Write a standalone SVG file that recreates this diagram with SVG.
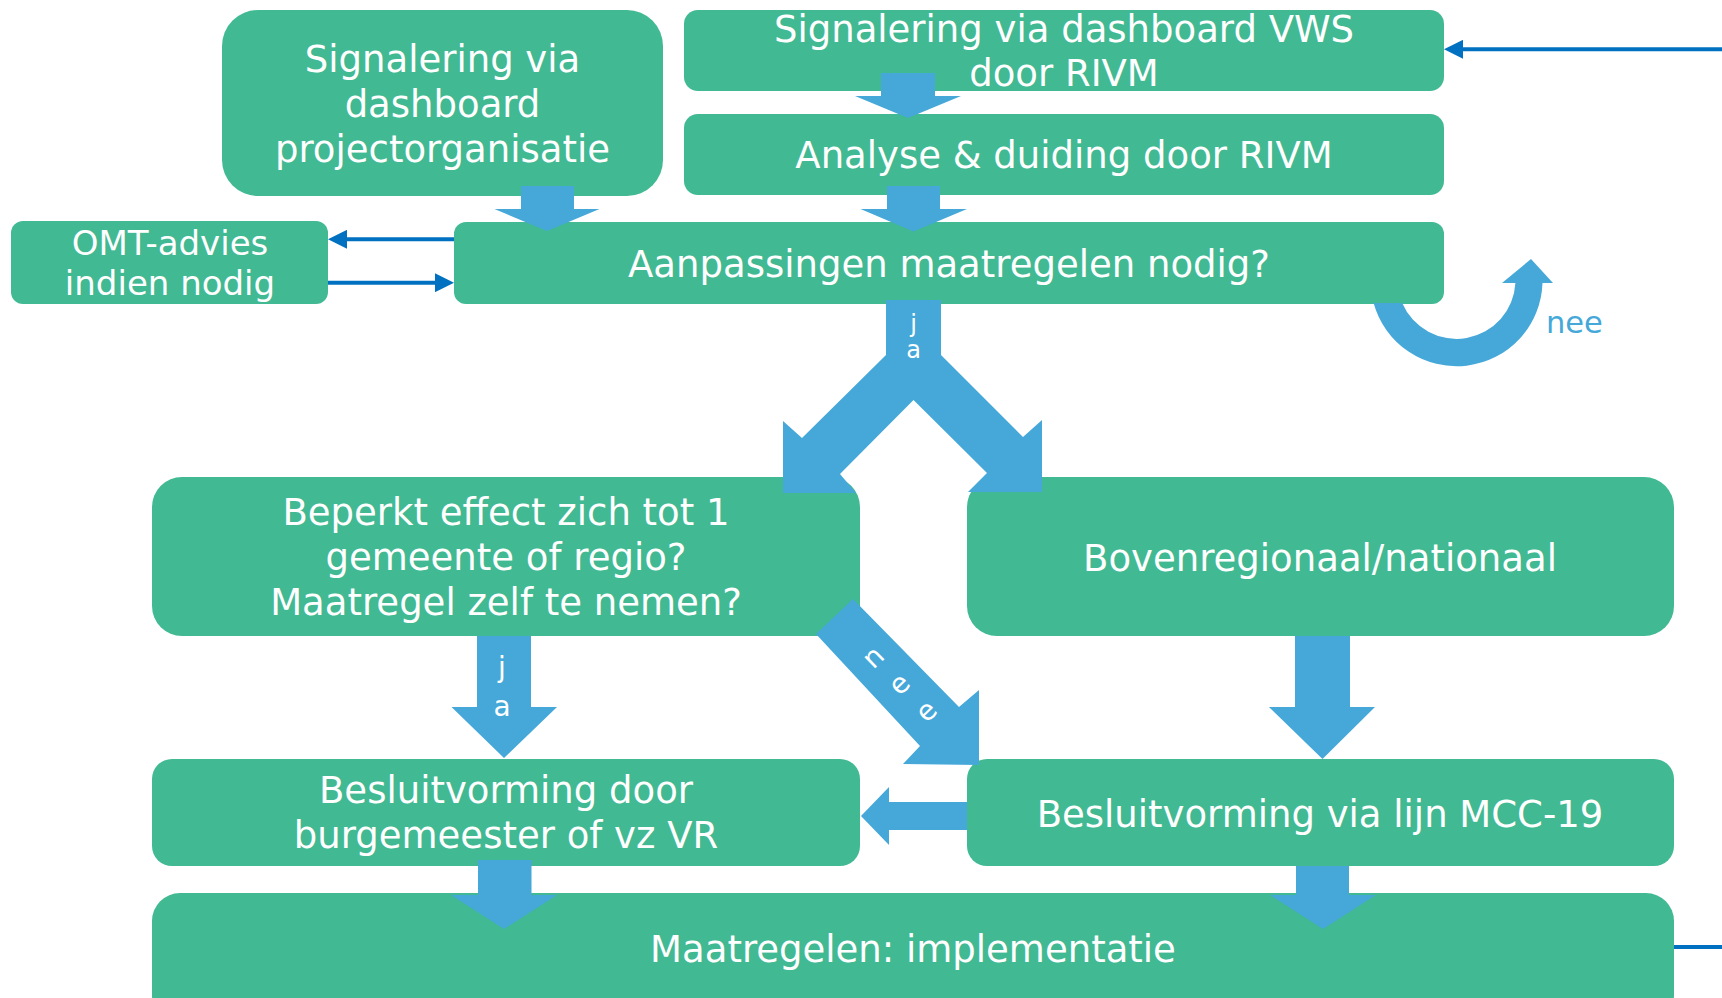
<svg xmlns="http://www.w3.org/2000/svg" width="1722" height="998" viewBox="0 0 1722 998">
  <defs>
    <style>
      .box { fill: #41B993; }
      .t { font-family: "DejaVu Sans", Verdana, sans-serif; font-size: 37px; fill: #FFFFFF; text-anchor: middle; }
      .ts { font-family: "DejaVu Sans", Verdana, sans-serif; fill: #FFFFFF; text-anchor: middle; }
      .arr { fill: #45A8D9; }
      .ln { stroke: #0070C0; stroke-width: 4; fill: none; marker-end: url(#head); }
    </style>
    <marker id="head" viewBox="0 0 19 19" refX="10" refY="9.5" markerUnits="userSpaceOnUse" markerWidth="19" markerHeight="19" orient="auto">
      <path d="M0,0 L19,9.5 L0,19 Z" fill="#0070C0"/>
    </marker>
  </defs>

  <g id="node-signalering-project">
    <rect class="box" x="222" y="10" width="441" height="186" rx="36"/>
    <text class="t" x="442.5" y="72">Signalering via</text>
    <text class="t" x="442.5" y="117">dashboard</text>
    <text class="t" x="442.5" y="162">projectorganisatie</text>
  </g>
  <g id="node-signalering-vws">
    <rect class="box" x="684" y="10" width="760" height="81" rx="14"/>
    <text class="t" x="1064" y="42">Signalering via dashboard VWS</text>
    <text class="t" x="1064" y="86">door RIVM</text>
  </g>
  <g id="node-analyse">
    <rect class="box" x="684" y="114" width="760" height="81" rx="14"/>
    <text class="t" x="1064" y="168">Analyse &amp; duiding door RIVM</text>
  </g>
  <g id="node-omt">
    <rect class="box" x="11" y="221" width="317" height="83" rx="12"/>
    <text class="ts" x="170" y="255" font-size="34">OMT-advies</text>
    <text class="ts" x="170" y="295" font-size="34">indien nodig</text>
  </g>
  <g id="node-aanpassingen">
    <rect class="box" x="454" y="222" width="990" height="82" rx="12"/>
    <text class="t" x="949" y="277">Aanpassingen maatregelen nodig?</text>
  </g>
  <g id="node-beperkt">
    <rect class="box" x="152" y="477" width="708" height="159" rx="30"/>
    <text class="t" x="506" y="525">Beperkt effect zich tot 1</text>
    <text class="t" x="506" y="570">gemeente of regio?</text>
    <text class="t" x="506" y="615">Maatregel zelf te nemen?</text>
  </g>
  <g id="node-bovenregionaal">
    <rect class="box" x="967" y="477" width="707" height="159" rx="30"/>
    <text class="t" x="1320" y="571">Bovenregionaal/nationaal</text>
  </g>
  <g id="node-besluit-burgemeester">
    <rect class="box" x="152" y="759" width="708" height="107" rx="20"/>
    <text class="t" x="506" y="803">Besluitvorming door</text>
    <text class="t" x="506" y="848">burgemeester of vz VR</text>
  </g>
  <g id="node-besluit-mcc">
    <rect class="box" x="967" y="759" width="707" height="107" rx="20"/>
    <text class="t" x="1320" y="827">Besluitvorming via lijn MCC-19</text>
  </g>
  <g id="node-implementatie">
    <rect class="box" x="152" y="893" width="1522" height="130" rx="28"/>
    <text class="t" x="913" y="962">Maatregelen: implementatie</text>
  </g>

  <g id="connectors">
    <!-- thin dark-blue lines -->
    <line class="ln" x1="1722" y1="49.3" x2="1453" y2="49.3"/>
    <line class="ln" x1="454" y1="239.3" x2="337" y2="239.3"/>
    <line class="ln" x1="328" y1="282.7" x2="445" y2="282.7"/>
    <line x1="1674" y1="947" x2="1722" y2="947" stroke="#0070C0" stroke-width="4"/>

    <!-- block arrows -->
    <polygon class="arr" points="521,186 574,186 574,209 599.5,209 547,231 494.5,209 521,209"/>
    <polygon class="arr" points="881,73 935,73 935,96 961,96 908,118 855,96 881,96"/>
    <polygon class="arr" points="887,186 940,186 940,209 967,209 913.5,231.5 860.5,209 887,209"/>
    <polygon class="arr" points="886,300 941,300 941,355 1023,437 1042,420 1042,492 968,492 987,473 913.5,400 840,474 856,493 783,493 783,421 802,438 886,355"/>
    <polygon class="arr" points="477,636 531,636 531,707 557,707 504,758 451.5,707 477,707"/>
    <polygon class="arr" points="1295,636 1350,636 1350,707 1375,707 1322.5,759 1269,707 1295,707"/>
    <polygon class="arr" points="816,634 853,599 959,707 979,690 979,765 903,764 920,746"/>
    <polygon class="arr" points="967,802 889,802 889,787 861,816 889,845 889,830 967,830"/>
    <polygon class="arr" points="478,860 531.5,860 531.5,895 557,895 504,929 451,895 478,895"/>
    <polygon class="arr" points="1296,866 1349,866 1349,895 1376,895 1323,929 1270,895 1296,895"/>
    <path class="arr" d="M1373.6,303 A86,86 0 0 0 1542.5,283 L1553,283 L1531,259 L1502,283 L1515.4,283 A59,59 0 0 1 1402.2,303 Z"/>

    <!-- arrow labels -->
    <text class="ts" x="913.5" y="332" font-size="24">j</text>
    <text class="ts" x="913.5" y="358" font-size="24">a</text>
    <text class="ts" x="502" y="677" font-size="28">j</text>
    <text class="ts" x="502" y="716" font-size="28">a</text>
    <text class="ts" font-size="28" dominant-baseline="central" transform="translate(873,657) rotate(-44)">n</text>
    <text class="ts" font-size="28" dominant-baseline="central" transform="translate(899,684) rotate(-44)">e</text>
    <text class="ts" font-size="28" dominant-baseline="central" transform="translate(926,711) rotate(-44)">e</text>
    <text x="1546" y="333" font-family="DejaVu Sans, Verdana, sans-serif" font-size="30.5" fill="#45A8D9">nee</text>
  </g>
</svg>
